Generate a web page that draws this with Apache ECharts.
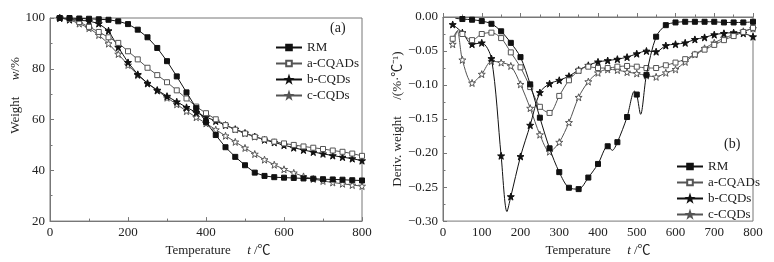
<!DOCTYPE html>
<html>
<head>
<meta charset="utf-8">
<script src="https://cdn.jsdelivr.net/npm/echarts@6/dist/echarts.min.js"></script>
<style>
  html, body { margin: 0; padding: 0; background: #fff; }
  #chart { width: 774px; height: 262px; }
</style>
</head>
<body>
<div id="chart"></div>
<script>
// temperatures of the plotted markers
var temps = [25, 50, 75, 100, 125, 150, 175, 200, 225, 250, 275, 300, 325, 350, 375, 400,
  425, 450, 475, 500, 525, 550, 575, 600, 625, 650, 675, 700, 725, 750, 775, 800];
var tempsRM = temps.slice(1);

// (a) weight, %
var wRM = [100, 100, 99.8, 99.7, 99.5, 99.3, 98.7, 97.6, 95.4, 92.4, 88.2, 83, 77, 70.7, 64.5, 59,
  53.9, 49.1, 45.3, 42, 39.1, 37.8, 37.3, 37.1, 37, 36.8, 36.7, 36.5, 36.4, 36.3, 36.1, 36];
var wA = [100, 99.6, 98.4, 96.5, 94.5, 92.4, 90.2, 86.9, 83.7, 80.4, 77.5, 74.7, 71.5, 68.3, 65.1, 62.5,
  60.1, 57.8, 56, 54.5, 53.2, 52.2, 51.3, 50.6, 50, 49.4, 48.9, 48.4, 47.8, 47.3, 46.6, 45.7];
var wB = [100, 99.5, 99.1, 98.8, 97.8, 95, 88.5, 82.5, 77.8, 74.3, 71.6, 69.2, 67, 64.8, 62.8, 61,
  59.4, 57.8, 56.2, 54.7, 53.3, 52, 51, 49.9, 48.9, 48, 47.2, 46.5, 45.8, 45.2, 44.6, 43.8];
var wC = [100, 99.3, 97.8, 96, 93.3, 89.9, 85.8, 81.5, 77.5, 74.2, 71.4, 68.6, 66, 63.3, 60.9, 58.5,
  56, 53.6, 51.2, 48.8, 46.4, 44.2, 42.2, 40.4, 39, 37.6, 36.6, 35.8, 35.2, 34.7, 34.2, 33.8];

// (b) derivative weight, %/°C
var dRM = [-0.003, -0.004, -0.006, -0.010, -0.021, -0.038, -0.059, -0.099, -0.148, -0.193, -0.228,
  -0.251, -0.253, -0.236, -0.216, -0.190, -0.184, -0.147, -0.114, -0.085, -0.029, -0.012, -0.008,
  -0.007, -0.007, -0.007, -0.007, -0.008, -0.008, -0.008, -0.007];
var dA = [-0.032, -0.025, -0.034, -0.025, -0.023, -0.031, -0.052, -0.074, -0.103, -0.132, -0.141,
  -0.116, -0.093, -0.079, -0.073, -0.075, -0.075, -0.073, -0.072, -0.073, -0.075, -0.075, -0.071,
  -0.067, -0.062, -0.055, -0.048, -0.041, -0.034, -0.028, -0.022, -0.016];
var dB = [-0.011, -0.023, -0.040, -0.038, -0.061, -0.204, -0.264, -0.205, -0.159, -0.111, -0.098,
  -0.093, -0.087, -0.078, -0.071, -0.066, -0.064, -0.062, -0.059, -0.054, -0.050, -0.051, -0.042,
  -0.040, -0.038, -0.033, -0.030, -0.026, -0.024, -0.023, -0.024, -0.029];
var dC = [-0.040, -0.063, -0.097, -0.084, -0.065, -0.067, -0.072, -0.099, -0.134, -0.173, -0.198,
  -0.184, -0.155, -0.118, -0.095, -0.082, -0.077, -0.078, -0.081, -0.083, -0.086, -0.088, -0.082,
  -0.077, -0.066, -0.055, -0.046, -0.038, -0.031, -0.026, -0.021, -0.017];

// curve points between markers (no symbol drawn)
var dRMExtra = [[32, -0.002], [437, -0.196], [494, -0.109], [510, -0.143]];
var dAExtra = [[40, -0.019]];
var dBExtra = [[165, -0.286]];
var dCExtra = [[37, -0.021]];

var names = ['RM', 'a-CQADs', 'b-CQDs', 'c-CQDs'];

var STAR = 'path://M0,-10 L2.35,-3.24 L9.51,-3.09 L3.8,1.24 L5.88,8.09 L0,4 L-5.88,8.09 L-3.8,1.24 L-9.51,-3.09 L-2.35,-3.24 Z';
var FONT = '"Liberation Serif", "Times New Roman", "Noto Sans CJK SC", serif';

function mkData(xs, ys, extra) {
  var out = xs.map(function (x, i) { return { value: [x, ys[i]] }; });
  (extra || []).forEach(function (p) {
    out.push({ value: p, symbol: 'none' });
  });
  out.sort(function (a, b) { return a.value[0] - b.value[0]; });
  return out;
}

var styles = [
  { symbol: 'rect', size: 5, fill: '#111', line: '#111' },
  { symbol: 'rect', size: 5, fill: '#fff', line: '#555' },
  { symbol: STAR, size: 7, fill: '#111', line: '#111' },
  { symbol: STAR, size: 7, fill: '#fff', line: '#555' }
];

function mkSeries(idx, xAxis, data, smooth) {
  var s = styles[idx];
  return {
    name: names[idx],
    type: 'line',
    xAxisIndex: xAxis,
    yAxisIndex: xAxis,
    data: data,
    smooth: smooth,
    symbol: s.symbol,
    symbolSize: s.size,
    showAllSymbol: true,
    lineStyle: { color: s.line, width: 1 },
    itemStyle: { color: s.fill, borderColor: s.line, borderWidth: 1 },
    emphasis: { disabled: true },
    animation: false,
    z: 4 - idx
  };
}

function axisBase() {
  return {
    axisLine: { lineStyle: { color: '#777', width: 1 } },
    axisTick: { inside: true, length: 4, lineStyle: { color: '#777' } },
    minorTick: { show: true, splitNumber: 2, length: 2.5, lineStyle: { color: '#777' } },
    splitLine: { show: false },
    axisLabel: { color: '#222', fontFamily: FONT, fontSize: 13, margin: 5 },
    nameTextStyle: { color: '#222', fontFamily: FONT, fontSize: 13,
      rich: {
        i: { fontStyle: 'italic', fontFamily: FONT, fontSize: 13, color: '#222' },
        s: { width: 24 }
      } }
  };
}

function xAxis(grid, interval, name) {
  return Object.assign(axisBase(), {
    type: 'value', gridIndex: grid, min: 0, max: 800, interval: interval,
    name: name, nameLocation: 'middle', nameGap: 22
  });
}

var yLeft = Object.assign(axisBase(), {
  type: 'value', gridIndex: 0, min: 20, max: 100, interval: 20,
  name: '{s|}{s|}Weight     {i|w}/%', nameLocation: 'middle', nameGap: 28
});
var yRight = Object.assign(axisBase(), {
  type: 'value', gridIndex: 1, min: -0.3, max: 0, interval: 0.05,
  name: 'Deriv. weight     /(%·℃⁻¹)', nameLocation: 'middle', nameGap: 39
});
yRight.axisLabel.formatter = function (v) {
  return Math.abs(v) < 1e-9 ? '0.00' : '−' + Math.abs(v).toFixed(2);
};

var chart = echarts.init(document.getElementById('chart'), null, { renderer: 'canvas' });

var legendBase = {
  orient: 'vertical', itemWidth: 26, itemHeight: 7, itemGap: 3,
  textStyle: { color: '#222', fontFamily: FONT, fontSize: 13 },
  selectedMode: false,
  data: names.slice()
};

chart.setOption({
  animation: false,
  backgroundColor: '#fff',
  grid: [
    { left: 50, top: 18, width: 312, height: 204, show: true, borderColor: '#777', borderWidth: 1 },
    { left: 443, top: 17, width: 310, height: 206, show: true, borderColor: '#777', borderWidth: 1 }
  ],
  xAxis: [
    xAxis(0, 200, '{s|}Temperature     {i|t} /℃'),
    xAxis(1, 100, 'Temperature     {i|t} /℃')
  ],
  yAxis: [yLeft, yRight],
  legend: [
    Object.assign({}, legendBase, { left: 270, top: 36 }),
    Object.assign({}, legendBase, { left: 671, top: 155 })
  ],
  graphic: [
    { type: 'text', left: 330, top: 21, style: { text: '(a)', font: '14px ' + FONT, fill: '#222' } },
    { type: 'text', left: 724, top: 137, style: { text: '(b)', font: '14px ' + FONT, fill: '#222' } }
  ],
  series: [
    mkSeries(0, 0, mkData(temps, wRM), false),
    mkSeries(1, 0, mkData(temps, wA), false),
    mkSeries(2, 0, mkData(temps, wB), false),
    mkSeries(3, 0, mkData(temps, wC), false),
    mkSeries(0, 1, mkData(tempsRM, dRM, dRMExtra), 0.3),
    mkSeries(1, 1, mkData(temps, dA, dAExtra), 0.3),
    mkSeries(2, 1, mkData(temps, dB, dBExtra), 0.3),
    mkSeries(3, 1, mkData(temps, dC, dCExtra), 0.3)
  ]
});
</script>
</body>
</html>
